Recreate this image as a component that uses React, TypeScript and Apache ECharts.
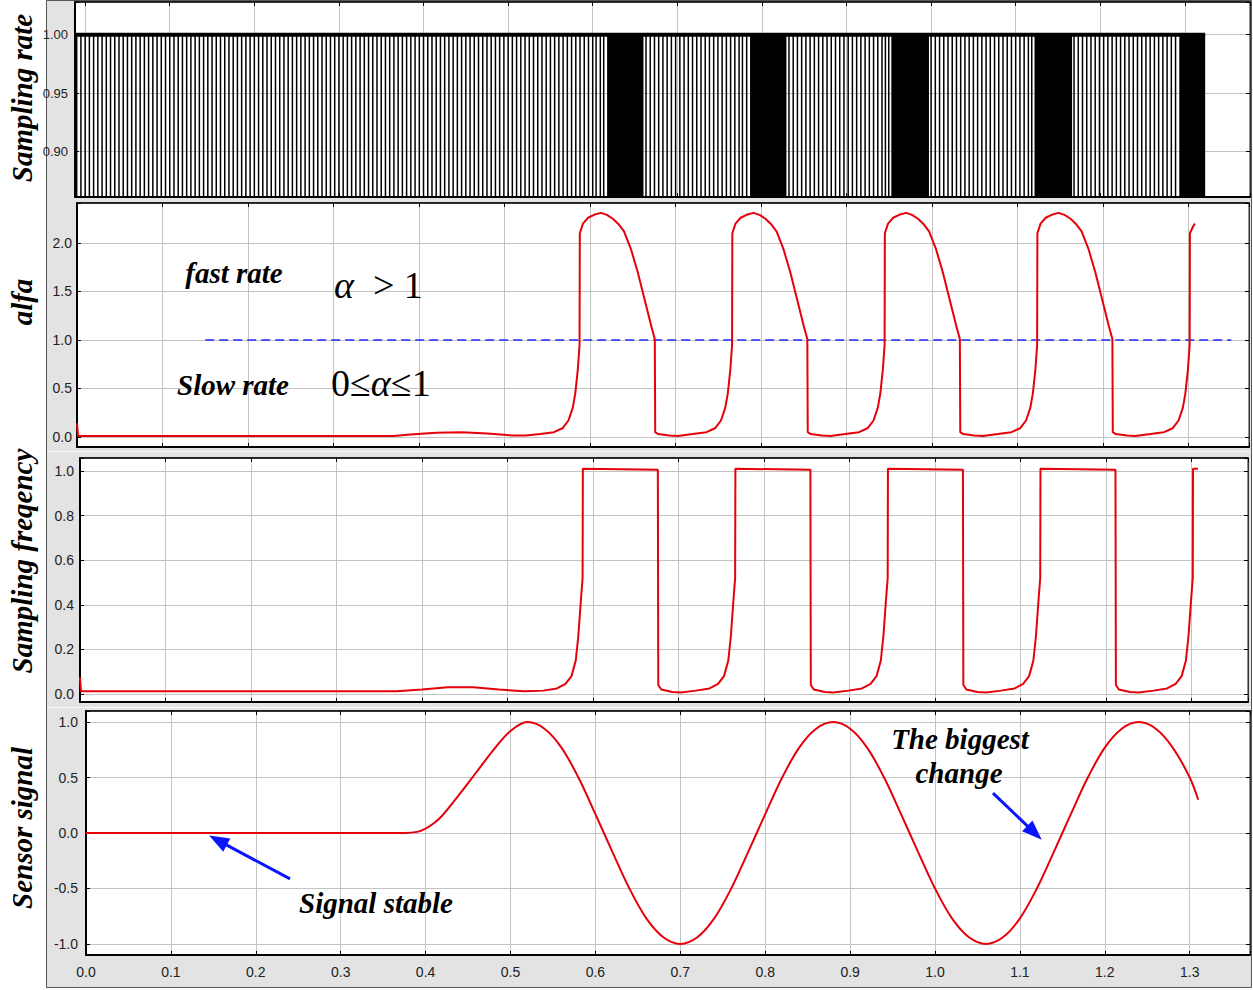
import React, { useEffect, useRef } from "react";
import * as echarts from "echarts";

// ---------------- data ----------------
// Sampling rate panel: sample instants (ms) in the slow-rate stretches, each stem reaches 1.00
const rateLevel = 1.0;
const rateStemsMsA = [-10,-5,0,5,10,15,20,25,30,35,40,45,50,55,60,65,70,75,80,85,90,95,100,105,110,115,120,125,130,135,140,145,150,155,160,165,170,175,180,185,190,195,200,205,210,215,220,225,230,235,240,245,250,255,260,265,270,275,280,285,290,295,300,305,310,315,320,325,330,335,340,345,350,355,360,365,370,375,380,385,390,395,400,405,410,415,420,425,430,435,440,445,450,455,460,465,470,475,480,485,490,495,500,505,510,515,520,525,530,535,540,545,550,555,560,565,570,575,580,585,590,595,600,604,609,613];
const rateStemsMsB = [663,668,673,678,683,688,693,698,703,708,713,718,723,728,733,738,743,748,753,758,763,768,773,777,782];
const rateStemsMsC = [832,837,842,847,852,857,862,867,872,877,882,887,892,897,902,907,912,917,922,927,932,937,942,946,950];
const rateStemsMsD = [1000,1005,1010,1015,1020,1025,1030,1035,1040,1045,1050,1055,1060,1065,1070,1075,1080,1085,1090,1095,1100,1105,1110,1115,1119];
const rateStemsMsE = [1169,1174,1179,1184,1189,1194,1199,1204,1209,1214,1219,1224,1229,1234,1239,1244,1249,1254,1259,1264,1269,1274,1279,1284,1289];
// fast-rate stretches (stems so dense they merge into solid black)
const rateFastBlocks = [[0.617, 0.66], [0.786, 0.829], [0.953, 0.9975], [1.1223, 1.1667], [1.2934, 1.324]];
const rateTopLine = [[-0.012, 1.0], [1.324, 1.0]];

// alfa
const alfaPoints = [
  [0, 0.14], [0.0012, 0.01], [0.37, 0.01], [0.39, 0.025], [0.42, 0.045], [0.45, 0.05], [0.48, 0.035], [0.51, 0.015], [0.525, 0.015],
  [0.5418, 0.03], [0.5578, 0.05], [0.5678, 0.09], [0.5748, 0.17], [0.5798, 0.3], [0.5828, 0.45], [0.5858, 0.7], [0.5878, 0.95],
  [0.5881, 2.1], [0.5918, 2.2], [0.5978, 2.26], [0.6048, 2.29], [0.6128, 2.31], [0.6198, 2.29], [0.6268, 2.25], [0.6338, 2.19],
  [0.6398, 2.12], [0.6478, 1.94], [0.6558, 1.7], [0.6638, 1.42], [0.6718, 1.14], [0.6758, 1.01],
  [0.6763, 0.05], [0.6798, 0.03], [0.6928, 0.015], [0.7028, 0.01],
  [0.7202, 0.03], [0.7362, 0.05], [0.7462, 0.09], [0.7532, 0.17], [0.7582, 0.3], [0.7612, 0.45], [0.7642, 0.7], [0.7662, 0.95],
  [0.7665, 2.1], [0.7702, 2.2], [0.7762, 2.26], [0.7832, 2.29], [0.7912, 2.31], [0.7982, 2.29], [0.8052, 2.25], [0.8122, 2.19],
  [0.8182, 2.12], [0.8262, 1.94], [0.8342, 1.7], [0.8422, 1.42], [0.8502, 1.14], [0.8542, 1.01],
  [0.8547, 0.05], [0.8582, 0.03], [0.8712, 0.015], [0.8812, 0.01],
  [0.8986, 0.03], [0.9146, 0.05], [0.9246, 0.09], [0.9316, 0.17], [0.9366, 0.3], [0.9396, 0.45], [0.9426, 0.7], [0.9446, 0.95],
  [0.9449, 2.1], [0.9486, 2.2], [0.9546, 2.26], [0.9616, 2.29], [0.9696, 2.31], [0.9766, 2.29], [0.9836, 2.25], [0.9906, 2.19],
  [0.9966, 2.12], [1.0046, 1.94], [1.0126, 1.7], [1.0206, 1.42], [1.0286, 1.14], [1.0326, 1.01],
  [1.0331, 0.05], [1.0366, 0.03], [1.0496, 0.015], [1.0596, 0.01],
  [1.077, 0.03], [1.093, 0.05], [1.103, 0.09], [1.11, 0.17], [1.115, 0.3], [1.118, 0.45], [1.121, 0.7], [1.123, 0.95],
  [1.1233, 2.1], [1.127, 2.2], [1.133, 2.26], [1.14, 2.29], [1.148, 2.31], [1.155, 2.29], [1.162, 2.25], [1.169, 2.19],
  [1.175, 2.12], [1.183, 1.94], [1.191, 1.7], [1.199, 1.42], [1.207, 1.14], [1.211, 1.01],
  [1.2115, 0.05], [1.215, 0.03], [1.228, 0.015], [1.238, 0.01],
  [1.2554, 0.03], [1.2714, 0.05], [1.2814, 0.09], [1.2884, 0.17], [1.2934, 0.3], [1.2964, 0.45], [1.2994, 0.7], [1.3014, 0.95],
  [1.3017, 2.1], [1.3054, 2.17], [1.3074, 2.2],
];
const alfaThreshold = [[0.15, 1.0], [1.35, 1.0]];

// Sampling frequency
const freqPoints = [
  [0, 0.075], [0.0012, 0.012], [0.37, 0.012], [0.4, 0.02], [0.43, 0.03], [0.46, 0.03], [0.49, 0.02], [0.52, 0.012],
  [0.5418, 0.015], [0.5578, 0.025], [0.5678, 0.045], [0.5748, 0.08], [0.5798, 0.15], [0.5828, 0.26], [0.5858, 0.42], [0.5878, 0.52],
  [0.5881, 1.01], [0.6758, 1.005], [0.6763, 0.04], [0.6798, 0.02], [0.6928, 0.009], [0.7028, 0.007],
  [0.7202, 0.015], [0.7362, 0.025], [0.7462, 0.045], [0.7532, 0.08], [0.7582, 0.15], [0.7612, 0.26], [0.7642, 0.42], [0.7662, 0.52],
  [0.7665, 1.01], [0.8542, 1.005], [0.8547, 0.04], [0.8582, 0.02], [0.8712, 0.009], [0.8812, 0.007],
  [0.8986, 0.015], [0.9146, 0.025], [0.9246, 0.045], [0.9316, 0.08], [0.9366, 0.15], [0.9396, 0.26], [0.9426, 0.42], [0.9446, 0.52],
  [0.9449, 1.01], [1.0326, 1.005], [1.0331, 0.04], [1.0366, 0.02], [1.0496, 0.009], [1.0596, 0.007],
  [1.077, 0.015], [1.093, 0.025], [1.103, 0.045], [1.11, 0.08], [1.115, 0.15], [1.118, 0.26], [1.121, 0.42], [1.123, 0.52],
  [1.1233, 1.01], [1.211, 1.005], [1.2115, 0.04], [1.215, 0.02], [1.228, 0.009], [1.238, 0.007],
  [1.2554, 0.015], [1.2714, 0.025], [1.2814, 0.045], [1.2884, 0.08], [1.2934, 0.15], [1.2964, 0.26], [1.2994, 0.42], [1.3014, 0.52],
  [1.3017, 1.01], [1.3074, 1.01],
];

// Sensor signal
const sensorPoints = [
  [0, 0], [0.36, 0], [0.375, 0], [0.39, 0.01], [0.4, 0.04], [0.41, 0.09], [0.42, 0.16], [0.44, 0.35], [0.46, 0.55], [0.48, 0.75],
  [0.5, 0.92], [0.52, 1.0], [0.54, 0.94], [0.56, 0.77], [0.58, 0.5], [0.6, 0.17], [0.62, -0.17], [0.64, -0.5], [0.66, -0.77],
  [0.68, -0.94], [0.7, -1.0], [0.72, -0.94], [0.74, -0.77], [0.76, -0.5], [0.78, -0.17], [0.8, 0.17], [0.82, 0.5], [0.84, 0.77],
  [0.86, 0.94], [0.88, 1.0], [0.9, 0.94], [0.92, 0.77], [0.94, 0.5], [0.96, 0.17], [0.98, -0.17], [1.0, -0.5], [1.02, -0.77],
  [1.04, -0.94], [1.06, -1.0], [1.08, -0.94], [1.1, -0.77], [1.12, -0.5], [1.14, -0.17], [1.16, 0.17], [1.18, 0.5], [1.2, 0.77],
  [1.22, 0.94], [1.24, 1.0], [1.26, 0.94], [1.28, 0.77], [1.3, 0.5], [1.31, 0.3],
];
// annotation arrows in sensor coordinates: [fromT, fromV, toT, toV]
const arrowAnnotations = [
  [0.2403, -0.414, 0.1554, -0.066],
  [1.0683, 0.36, 1.1172, 0.002],
];

// ---------------- layout / style ----------------
const W = 1253;
const H = 990;
const SERIF = '"Liberation Serif", "Times New Roman", serif';
const SANS = '"Liberation Sans", Arial, sans-serif';
const RED = "#e6000a";

const panels = [
  { left: 75, top: 2, width: 1175, height: 195, xMin: -0.012, xMax: 1.377, xStep: 0.1, yMin: 0.861, yMax: 1.028, ySplit: 3, yStep: 0.05, yDigits: 2, yMargin: 7, showX: false },
  { left: 77, top: 203, width: 1172, height: 244, xMin: 0, xMax: 1.3708, xStep: 0.1, yMin: -0.103, yMax: 2.412, ySplit: 5, yStep: 0.5, yDigits: 1, yMargin: 5, showX: false },
  { left: 80, top: 458, width: 1168, height: 244, xMin: 0, xMax: 1.366, xStep: 0.1, yMin: -0.036, yMax: 1.058, ySplit: 5, yStep: 0.2, yDigits: 1, yMargin: 6, showX: false },
  { left: 86, top: 711, width: 1164, height: 244, xMin: 0, xMax: 1.371, xStep: 0.1, yMin: -1.1, yMax: 1.1, ySplit: 4, yStep: 0.5, yDigits: 1, yMargin: 8, showX: true },
];

const onStep = (v: number, step: number) => Math.abs(v / step - Math.round(v / step)) < 1e-6;

function buildOption() {
  const grid = panels.map((p) => ({
    left: p.left, top: p.top, width: p.width, height: p.height,
    show: true, backgroundColor: "#ffffff", borderColor: "#222", borderWidth: 1,
    containLabel: false, outerBoundsMode: "none",
  }));
  const xAxis: any[] = [];
  const yAxis: any[] = [];
  panels.forEach((p, i) => {
    const xCommon: any = { type: "value", gridIndex: i, min: p.xMin, max: p.xMax };
    if (p.xMin === 0) xCommon.interval = p.xStep; else xCommon.splitNumber = 14;
    xAxis.push({
      ...xCommon, position: "bottom",
      axisLine: { show: true, onZero: false, lineStyle: { color: "#000", width: 2 } },
      axisTick: { show: true, inside: true, length: 4, lineStyle: { color: "#000", width: 1 } },
      axisLabel: {
        show: p.showX, margin: 10, color: "#222", fontSize: 14, fontFamily: SANS,
        formatter: (v: number) => (onStep(v, p.xStep) ? v.toFixed(1) : ""),
      },
      splitLine: { show: true, lineStyle: { color: "#c4c4c4", width: 1 } },
    });
    xAxis.push({
      ...xCommon, position: "top",
      axisLine: { show: true, onZero: false, lineStyle: { color: "#000", width: 1.5 } },
      axisTick: { show: true, inside: true, length: 4, lineStyle: { color: "#000", width: 1 } },
      axisLabel: { show: false }, splitLine: { show: false },
    });
    const yCommon: any = { type: "value", gridIndex: i, min: p.yMin, max: p.yMax, splitNumber: p.ySplit };
    yAxis.push({
      ...yCommon, position: "left",
      axisLine: { show: true, onZero: false, lineStyle: { color: "#000", width: 2 } },
      axisTick: { show: true, inside: true, length: 4, lineStyle: { color: "#000", width: 1 } },
      axisLabel: {
        show: true, margin: p.yMargin, color: "#222", fontSize: i === 0 ? 13 : 14, fontFamily: SANS,
        formatter: (v: number) => (onStep(v, p.yStep) ? v.toFixed(p.yDigits) : ""),
      },
      splitLine: { show: true, lineStyle: { color: "#c4c4c4", width: 1 } },
    });
    yAxis.push({
      ...yCommon, position: "right",
      axisLine: { show: true, onZero: false, lineStyle: { color: "#333", width: 1 } },
      axisTick: { show: true, inside: true, length: 4, lineStyle: { color: "#000", width: 1 } },
      axisLabel: { show: false }, splitLine: { show: false },
    });
  });

  const rateStems = [...rateStemsMsA, ...rateStemsMsB, ...rateStemsMsC, ...rateStemsMsD, ...rateStemsMsE].map((ms) => [ms / 1000, rateLevel]);

  const redLine = (idx: number, data: number[][], smooth: boolean | number = false) => ({
    type: "line", xAxisIndex: idx * 2, yAxisIndex: idx * 2, data, smooth,
    symbol: "none", showSymbol: false, clip: true, silent: true,
    lineStyle: { color: RED, width: 2 }, emphasis: { disabled: true }, z: 3,
  });

  const series: any[] = [
    {
      type: "bar", xAxisIndex: 0, yAxisIndex: 0, data: rateStems, barWidth: 1.5, silent: true,
      itemStyle: { color: "#000" }, emphasis: { disabled: true }, clip: true,
      markArea: {
        silent: true, itemStyle: { color: "#000", opacity: 1, borderWidth: 0 }, label: { show: false },
        data: rateFastBlocks.map(([a, b]) => [{ xAxis: a, yAxis: panels[0].yMin }, { xAxis: b, yAxis: rateLevel }]),
      },
    },
    {
      type: "line", xAxisIndex: 0, yAxisIndex: 0, data: rateTopLine, symbol: "none", silent: true,
      lineStyle: { color: "#000", width: 4 }, emphasis: { disabled: true }, z: 4,
    },
    redLine(1, alfaPoints),
    {
      type: "line", xAxisIndex: 2, yAxisIndex: 2, data: alfaThreshold, symbol: "none", silent: true,
      lineStyle: { color: "#1b2cff", width: 1.5, type: [9, 5] }, emphasis: { disabled: true }, z: 2,
    },
    redLine(2, freqPoints),
    {
      ...redLine(3, sensorPoints, 0.35),
      markLine: {
        silent: true, symbol: ["none", "triangle"], symbolSize: [15, 20],
        label: { show: false }, emphasis: { disabled: true },
        lineStyle: { color: "#0a14ff", width: 3, type: "solid" },
        itemStyle: { color: "#0a14ff" },
        data: arrowAnnotations.map((a) => [{ coord: [a[0], a[1]] }, { coord: [a[2], a[3]] }]),
      },
    },
  ];

  const title = (text: string, y: number) => ({
    type: "text", x: 22, y, rotation: Math.PI / 2, z: 10,
    style: { text, fontFamily: SERIF, fontSize: 29, fontWeight: "bold", fontStyle: "italic", fill: "#000", align: "center", verticalAlign: "middle" },
  });
  const note = (text: string, x: number, y: number) => ({
    type: "text", x, y, z: 10,
    style: { text, fontFamily: SERIF, fontSize: 29, fontWeight: "bold", fontStyle: "italic", fill: "#000", align: "center", verticalAlign: "middle" },
  });
  const mathRich = {
    i: { fontFamily: SERIF, fontSize: 38, fontStyle: "italic", fill: "#000" },
    r: { fontFamily: SERIF, fontSize: 38, fill: "#000" },
  };

  const graphic: any[] = [
    { type: "rect", z: -1, shape: { x: 46.5, y: 0.5, width: 1205, height: 987 }, style: { fill: "#e3e3e3", stroke: "#555", lineWidth: 1 } },
    { type: "line", z: -1, shape: { x1: 47, y1: 451.5, x2: 1251, y2: 451.5 }, style: { stroke: "#fafafa", lineWidth: 1 } },
    { type: "line", z: -1, shape: { x1: 47, y1: 707.5, x2: 1251, y2: 707.5 }, style: { stroke: "#fafafa", lineWidth: 1 } },
    title("Sampling rate", 98),
    title("alfa", 302),
    title("Sampling freqency", 561),
    title("Sensor signal", 828),
    note("fast rate", 234, 273),
    note("Slow rate", 233, 385),
    { type: "text", x: 334, y: 285, z: 10, style: { text: "{i|α}{r|  > 1}", rich: mathRich, align: "left", verticalAlign: "middle" } },
    { type: "text", x: 331, y: 383, z: 10, style: { text: "{r|0≤}{i|α}{r|≤1}", rich: mathRich, align: "left", verticalAlign: "middle" } },
    note("The biggest", 960, 739),
    note("change", 959, 773),
    note("Signal stable", 376, 903),
  ];

  return { animation: false, backgroundColor: "#ffffff", grid, xAxis, yAxis, series, graphic, tooltip: { show: false } };
}

export default function App() {
  const ref = useRef<HTMLDivElement>(null);
  useEffect(() => {
    if (!ref.current) return;
    document.body.style.margin = "0";
    const chart = echarts.init(ref.current, null, { renderer: "svg", width: W, height: H });
    chart.setOption(buildOption() as any);
    return () => chart.dispose();
  }, []);
  return <div ref={ref} style={{ width: W, height: H, background: "#fff", display: "block" }} />;
}
